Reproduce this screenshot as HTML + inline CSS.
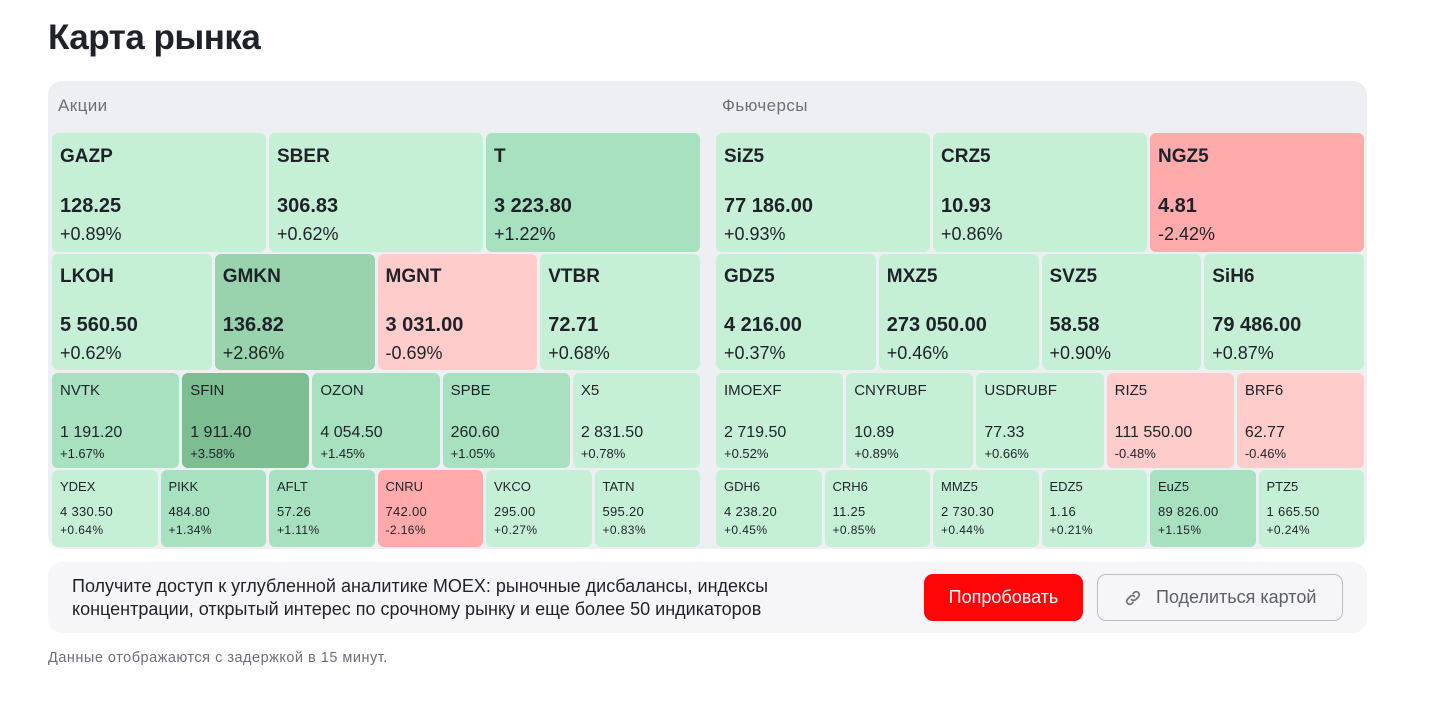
<!DOCTYPE html>
<html><head><meta charset="utf-8">
<style>
*{margin:0;padding:0;box-sizing:border-box}
body{width:1429px;height:717px;background:#fff;font-family:"Liberation Sans",Arial,sans-serif;color:#1f2229;position:relative;overflow:hidden}
h1{position:absolute;left:48px;top:18px;font-size:35px;font-weight:700;letter-spacing:-0.5px;color:#1f2229}
.box{position:absolute;left:48px;top:81px;width:1319px;height:468px;background:#eeeff3;border-radius:14px}
.sec{position:absolute;top:96px;font-size:17px;letter-spacing:0.4px;color:#6b6f78}
.row{position:absolute;display:flex;gap:3px}
.t{position:relative;flex:1;border-radius:6px}
.t span{position:absolute;left:8px;white-space:nowrap}
.g1{background:#c6f0d6}.g2{background:#a8e1bf}.g3{background:#98d3ad}.g4{background:#7cbd91}
.r1{background:#ffcccc}.r2{background:#ffabab}
.A .a{top:13px;font-size:19px;font-weight:700}
.A .b{top:62px;font-size:20px;font-weight:700}
.A .c{top:91px;font-size:18px}
.B .a{top:12px;font-size:19px;font-weight:700}
.B .b{top:60px;font-size:20px;font-weight:700}
.B .c{top:89px;font-size:18px}
.C .a{top:9px;font-size:15px}
.C .b{top:51px;font-size:16px}
.C .c{top:73px;font-size:13px}
.D .a{top:9px;font-size:13px}
.D .b{top:34px;font-size:13px;letter-spacing:0.3px}
.D .c{top:53px;font-size:12px;letter-spacing:0.4px}
.ban{position:absolute;left:48px;top:562px;width:1319px;height:71px;background:#f6f6f9;border-radius:14px}
.ban p{position:absolute;left:24px;top:13px;font-size:18px;line-height:23px;color:#1f2229}
.btn1{position:absolute;left:876px;top:12px;width:159px;height:47px;background:#ff0508;border-radius:9px;color:#fff;font-size:18px;text-align:center;line-height:47px}
.btn2{position:absolute;left:1049px;top:12px;width:246px;height:47px;border:1px solid #b9bcc4;border-radius:9px;color:#5b5f68;font-size:18px;line-height:45px;padding-left:58px}
.note{position:absolute;left:48px;top:650px;font-size:14.5px;letter-spacing:0.5px;color:#6b6f78}
</style></head><body>
<h1>Карта рынка</h1>
<div class="box"></div>
<div class="sec" style="left:58px">Акции</div>
<div class="sec" style="left:722px">Фьючерсы</div>

<div class="row A" style="left:52px;top:133px;width:648px;height:119px">
<div class="t g1"><span class="a">GAZP</span><span class="b">128.25</span><span class="c">+0.89%</span></div>
<div class="t g1"><span class="a">SBER</span><span class="b">306.83</span><span class="c">+0.62%</span></div>
<div class="t g2"><span class="a">T</span><span class="b">3 223.80</span><span class="c">+1.22%</span></div>
</div>
<div class="row B" style="left:52px;top:254px;width:648px;height:116px">
<div class="t g1"><span class="a">LKOH</span><span class="b">5 560.50</span><span class="c">+0.62%</span></div>
<div class="t g3"><span class="a">GMKN</span><span class="b">136.82</span><span class="c">+2.86%</span></div>
<div class="t r1"><span class="a">MGNT</span><span class="b">3 031.00</span><span class="c">-0.69%</span></div>
<div class="t g1"><span class="a">VTBR</span><span class="b">72.71</span><span class="c">+0.68%</span></div>
</div>
<div class="row C" style="left:52px;top:373px;width:648px;height:95px">
<div class="t g2"><span class="a">NVTK</span><span class="b">1 191.20</span><span class="c">+1.67%</span></div>
<div class="t g4"><span class="a">SFIN</span><span class="b">1 911.40</span><span class="c">+3.58%</span></div>
<div class="t g2"><span class="a">OZON</span><span class="b">4 054.50</span><span class="c">+1.45%</span></div>
<div class="t g2"><span class="a">SPBE</span><span class="b">260.60</span><span class="c">+1.05%</span></div>
<div class="t g1"><span class="a">X5</span><span class="b">2 831.50</span><span class="c">+0.78%</span></div>
</div>
<div class="row D" style="left:52px;top:470px;width:648px;height:77px">
<div class="t g1"><span class="a">YDEX</span><span class="b">4 330.50</span><span class="c">+0.64%</span></div>
<div class="t g2"><span class="a">PIKK</span><span class="b">484.80</span><span class="c">+1.34%</span></div>
<div class="t g2"><span class="a">AFLT</span><span class="b">57.26</span><span class="c">+1.11%</span></div>
<div class="t r2"><span class="a">CNRU</span><span class="b">742.00</span><span class="c">-2.16%</span></div>
<div class="t g1"><span class="a">VKCO</span><span class="b">295.00</span><span class="c">+0.27%</span></div>
<div class="t g1"><span class="a">TATN</span><span class="b">595.20</span><span class="c">+0.83%</span></div>
</div>

<div class="row A" style="left:716px;top:133px;width:648px;height:119px">
<div class="t g1"><span class="a">SiZ5</span><span class="b">77 186.00</span><span class="c">+0.93%</span></div>
<div class="t g1"><span class="a">CRZ5</span><span class="b">10.93</span><span class="c">+0.86%</span></div>
<div class="t r2"><span class="a">NGZ5</span><span class="b">4.81</span><span class="c">-2.42%</span></div>
</div>
<div class="row B" style="left:716px;top:254px;width:648px;height:116px">
<div class="t g1"><span class="a">GDZ5</span><span class="b">4 216.00</span><span class="c">+0.37%</span></div>
<div class="t g1"><span class="a">MXZ5</span><span class="b">273 050.00</span><span class="c">+0.46%</span></div>
<div class="t g1"><span class="a">SVZ5</span><span class="b">58.58</span><span class="c">+0.90%</span></div>
<div class="t g1"><span class="a">SiH6</span><span class="b">79 486.00</span><span class="c">+0.87%</span></div>
</div>
<div class="row C" style="left:716px;top:373px;width:648px;height:95px">
<div class="t g1"><span class="a">IMOEXF</span><span class="b">2 719.50</span><span class="c">+0.52%</span></div>
<div class="t g1"><span class="a">CNYRUBF</span><span class="b">10.89</span><span class="c">+0.89%</span></div>
<div class="t g1"><span class="a">USDRUBF</span><span class="b">77.33</span><span class="c">+0.66%</span></div>
<div class="t r1"><span class="a">RIZ5</span><span class="b">111 550.00</span><span class="c">-0.48%</span></div>
<div class="t r1"><span class="a">BRF6</span><span class="b">62.77</span><span class="c">-0.46%</span></div>
</div>
<div class="row D" style="left:716px;top:470px;width:648px;height:77px">
<div class="t g1"><span class="a">GDH6</span><span class="b">4 238.20</span><span class="c">+0.45%</span></div>
<div class="t g1"><span class="a">CRH6</span><span class="b">11.25</span><span class="c">+0.85%</span></div>
<div class="t g1"><span class="a">MMZ5</span><span class="b">2 730.30</span><span class="c">+0.44%</span></div>
<div class="t g1"><span class="a">EDZ5</span><span class="b">1.16</span><span class="c">+0.21%</span></div>
<div class="t g2"><span class="a">EuZ5</span><span class="b">89 826.00</span><span class="c">+1.15%</span></div>
<div class="t g1"><span class="a">PTZ5</span><span class="b">1 665.50</span><span class="c">+0.24%</span></div>
</div>

<div class="ban">
<p>Получите доступ к углубленной аналитике MOEX: рыночные дисбалансы, индексы<br>концентрации, открытый интерес по срочному рынку и еще более 50 индикаторов</p>
<div class="btn1">Попробовать</div>
<div class="btn2"><svg style="position:absolute;left:26px;top:14px" width="18" height="18" viewBox="0 0 24 24" fill="none" stroke="#6b6f78" stroke-width="2.2" stroke-linecap="round"><path d="M10 14a4 4 0 0 0 5.7 0l3.5-3.5a4 4 0 0 0-5.7-5.7L12 6.3"/><path d="M14 10a4 4 0 0 0-5.7 0l-3.5 3.5a4 4 0 0 0 5.7 5.7L12 17.7"/></svg>Поделиться картой</div>
</div>
<div class="note">Данные отображаются с задержкой в 15 минут.</div>
</body></html>
